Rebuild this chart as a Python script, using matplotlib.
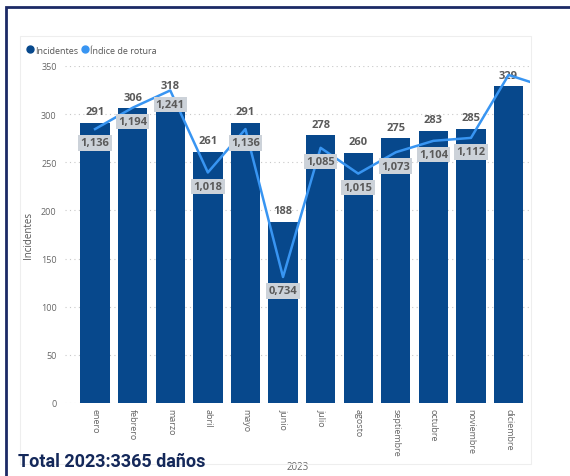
import matplotlib.pyplot as plt
from matplotlib.patches import Rectangle
from matplotlib.lines import Line2D

# datos
meses = ['enero', 'febrero', 'marzo', 'abril', 'mayo', 'junio', 'julio',
         'agosto', 'septiembre', 'octubre', 'noviembre', 'diciembre']
incidentes = [291, 306, 318, 261, 291, 188, 278, 260, 275, 283, 285, 329]
# indice de rotura (el ultimo punto sigue fuera del recorte)
indice = [1.136, 1.194, 1.241, 1.018, 1.136, 0.734, 1.085, 1.015, 1.073,
          1.104, 1.112, 1.283, 1.250]
n_etiquetas = 11  # diciembre no muestra etiqueta del indice
total_txt = 'Total 2023:3365 daños'

plt.rcParams['font.family'] = ['Open Sans', 'DejaVu Sans']

col_bar = '#07488c'
col_line = '#3895f2'
col_txt = '#5a5a5a'

fig = plt.figure(figsize=(5.7, 4.77), dpi=100)

# marco
fig.patches.append(Rectangle((6 / 570, -0.05), 1.2, 1 - 8 / 477 + 0.05,
                             transform=fig.transFigure, fill=False,
                             edgecolor='#1c2a66', linewidth=2))
fig.patches.append(Rectangle((20 / 570, 12 / 477), (531 - 20) / 570, (440 - 12) / 477,
                             transform=fig.transFigure, fill=False,
                             edgecolor='#eeeeee', linewidth=0.8))

ax = fig.add_axes([65 / 570, 1 - 404 / 477, (530 - 65) / 570, (404 - 67) / 477])
x = list(range(len(meses)))
ax.bar(x, incidentes, width=0.78, color=col_bar, zorder=2)
ax.set_xlim(-0.8, 11.57)
ax.set_ylim(0, 350)
ax.set_yticks(range(0, 351, 50))
ax.grid(True, axis='y', linestyle=(0, (1, 3)), color='#c8c8c8', linewidth=0.8, zorder=0)
for s in ax.spines.values():
    s.set_visible(False)
ax.tick_params(axis='both', length=0, labelsize=6.5, labelcolor='#666666')
ax.tick_params(axis='y', pad=6)
ax.set_xticks(x)
ax.set_xticklabels(meses, rotation=-90, va='top', fontsize=6.5)
ax.set_ylabel('Incidentes', fontsize=7, color='#555555', labelpad=5)
ax.set_xlabel('2023', fontsize=7, color='#666666', labelpad=4)

for i, v in enumerate(incidentes):
    ax.annotate(str(v), (i, v), xytext=(0, 4), textcoords='offset points',
                ha='center', va='bottom', fontsize=8, fontweight='bold',
                color=col_txt, zorder=5)

# eje secundario para el indice
ax2 = ax.twinx()
ax2.set_ylim(0.734 - (404 - 278) / 368, 0.734 + (278 - 67) / 368)
ax2.axis('off')
xi = list(range(len(indice)))
ax2.plot(xi, indice, color=col_line, linewidth=1.8, zorder=4, clip_on=True)
for i, v in enumerate(indice[:n_etiquetas]):
    ax2.annotate(f'{v:.3f}'.replace('.', ','), (i, v), xytext=(0, -10),
                 textcoords='offset points', ha='center', va='center',
                 fontsize=8, fontweight='bold', color=col_txt, zorder=6,
                 bbox=dict(boxstyle='square,pad=0.2', fc='#ccd2d9', ec='none'))

# leyenda
h = [Line2D([], [], marker='o', ls='', color=col_bar, markersize=5),
     Line2D([], [], marker='o', ls='', color=col_line, markersize=5)]
fig.legend(h, ['Incidentes', 'Índice de rotura'], loc='center left',
           bbox_to_anchor=(22 / 570, 1 - 51 / 477), ncol=2, frameon=False,
           fontsize=6.5, handletextpad=0.05, columnspacing=0.3,
           labelcolor='#555555', borderaxespad=0, handlelength=1)

fig.text(18 / 570, 1 - 462 / 477, total_txt, fontsize=13, fontweight='bold',
         color='#14285a', va='center', ha='left',
         family=['Liberation Sans Narrow', 'Roboto', 'DejaVu Sans'])

fig.savefig('out.png', dpi=100)
